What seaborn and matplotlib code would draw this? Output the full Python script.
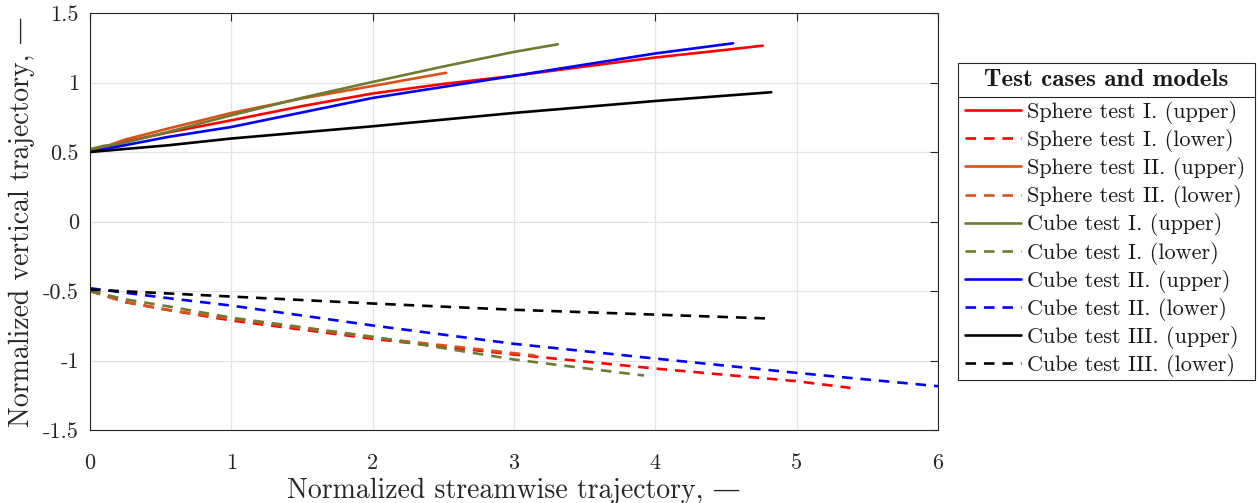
import matplotlib
matplotlib.use("Agg")
import matplotlib.pyplot as plt
from matplotlib.lines import Line2D
from matplotlib.patches import Rectangle
import seaborn as sns
import pandas as pd

# ---------------- data ----------------
sphere1_up_x = [0, 0.25, 0.55, 1, 1.5, 2, 2.5, 3, 3.5, 4, 4.5, 4.76]
sphere1_up_y = [0.5, 0.575, 0.64, 0.728, 0.83, 0.921, 0.99, 1.048, 1.115, 1.18, 1.235, 1.265]
sphere1_lo_x = [0, 0.25, 0.55, 1, 2, 3, 4, 5, 5.38]
sphere1_lo_y = [-0.5, -0.58, -0.636, -0.712, -0.844, -0.957, -1.058, -1.149, -1.197]

sphere2_up_x = [0, 0.25, 0.55, 1, 1.5, 2, 2.52]
sphere2_up_y = [0.5, 0.59, 0.668, 0.781, 0.885, 0.975, 1.07]
sphere2_lo_x = [0, 0.25, 0.55, 1, 2, 3.15]
sphere2_lo_y = [-0.5, -0.58, -0.636, -0.70, -0.835, -0.964]

cube1_up_x = [0, 0.1, 0.2, 0.55, 1, 1.5, 2, 2.5, 3, 3.31]
cube1_up_y = [0.52, 0.545, 0.555, 0.644, 0.764, 0.89, 1.004, 1.115, 1.22, 1.275]
cube1_lo_x = [0, 0.25, 0.55, 1, 2, 3, 3.92]
cube1_lo_y = [-0.5, -0.56, -0.61, -0.692, -0.829, -0.993, -1.108]

cube2_up_x = [0, 0.55, 1, 2, 3, 4, 4.55]
cube2_up_y = [0.5, 0.608, 0.68, 0.889, 1.048, 1.209, 1.282]
cube2_lo_x = [0, 0.5, 1, 2, 3, 4, 5, 6]
cube2_lo_y = [-0.48, -0.545, -0.605, -0.748, -0.88, -0.986, -1.089, -1.185]

cube3_up_x = [0, 0.55, 1, 2, 3, 4, 4.82]
cube3_up_y = [0.5, 0.548, 0.597, 0.685, 0.781, 0.867, 0.93]
cube3_lo_x = [0, 1, 2, 3, 4, 4.78]
cube3_lo_y = [-0.49, -0.54, -0.59, -0.635, -0.67, -0.697]

labels = [
    "Sphere test I. (upper)", "Sphere test I. (lower)",
    "Sphere test II. (upper)", "Sphere test II. (lower)",
    "Cube test I. (upper)", "Cube test I. (lower)",
    "Cube test II. (upper)", "Cube test II. (lower)",
    "Cube test III. (upper)", "Cube test III. (lower)",
]
series = [
    (sphere1_up_x, sphere1_up_y), (sphere1_lo_x, sphere1_lo_y),
    (sphere2_up_x, sphere2_up_y), (sphere2_lo_x, sphere2_lo_y),
    (cube1_up_x, cube1_up_y), (cube1_lo_x, cube1_lo_y),
    (cube2_up_x, cube2_up_y), (cube2_lo_x, cube2_lo_y),
    (cube3_up_x, cube3_up_y), (cube3_lo_x, cube3_lo_y),
]
colors = ["#ff0000", "#ff0000", "#d95319", "#d95319", "#6f7a32", "#6f7a32",
          "#0000ff", "#0000ff", "#000000", "#000000"]

legend_title = "Test cases and models"
x_ticks = [0, 1, 2, 3, 4, 5, 6]
x_ticklabels = ["0", "1", "2", "3", "4", "5", "6"]
y_ticks = [-1.5, -1, -0.5, 0, 0.5, 1, 1.5]
y_ticklabels = ["-1.5", "-1", "-0.5", "0", "0.5", "1", "1.5"]

# ---------------- style ----------------
sns.set_style("white")
plt.rcParams["font.family"] = ["cmr10", "DejaVu Serif"]
plt.rcParams["axes.unicode_minus"] = False
plt.rcParams["mathtext.fontset"] = "cm"

W, H = 1260, 503
fig = plt.figure(figsize=(W / 100, H / 100), dpi=100)
ax = fig.add_axes([90 / W, 1 - 430 / H, (938 - 90) / W, (430 - 13) / H])

for i, ((xs, ys), lab, col) in enumerate(zip(series, labels, colors)):
    df = pd.DataFrame({"x": xs, "y": ys})
    ls = "-" if i % 2 == 0 else (0, (4, 3))
    sns.lineplot(data=df, x="x", y="y", ax=ax, color=col, linewidth=1.9,
                 linestyle=ls, sort=False, estimator=None, label=lab)

ax.set_xlim(0, 6)
ax.set_ylim(-1.5, 1.5)
ax.set_xticks(x_ticks)
ax.set_xticklabels(x_ticklabels)
ax.set_yticks(y_ticks)
ax.set_yticklabels(y_ticklabels)
ax.tick_params(axis="both", which="both", direction="in", length=6, width=0.8,
               colors="#262626", labelsize=16, top=True, right=True)
ax.tick_params(axis="y", pad=8)
ax.tick_params(axis="x", pad=17)
ax.grid(True, color="#e3e3e3", linewidth=0.9)
ax.set_axisbelow(True)
for sp in ax.spines.values():
    sp.set_visible(True)
    sp.set_color("#262626")
    sp.set_linewidth(0.8)

ax.set_xlabel("Normalized streamwise trajectory, \u2014", fontsize=20, color="#262626", labelpad=3)
ax.set_ylabel("Normalized vertical trajectory, \u2014", fontsize=20, color="#262626", labelpad=6)

# legend entries (no frame), then framed box with title row drawn around them
leg = ax.legend(loc="upper left", bbox_to_anchor=(965 / W, 1 - 101 / H),
                bbox_transform=fig.transFigure,
                fontsize=16, frameon=False, handlelength=2.5, handletextpad=0.3,
                labelspacing=0.23, borderpad=0, borderaxespad=0)
for t in leg.get_texts():
    t.set_color("#1a1a1a")

fig.add_artist(Rectangle((958 / W, 1 - 380 / H), (1255 - 958) / W, (380 - 63) / H,
                         transform=fig.transFigure, fill=True, facecolor="none",
                         edgecolor="#262626", linewidth=0.8))
fig.add_artist(Line2D([958 / W, 1255 / W], [1 - 97 / H, 1 - 97 / H],
                      transform=fig.transFigure, color="#262626", linewidth=0.8))
fig.text((958 + 1255) / 2 / W, 1 - 80 / H, legend_title, ha="center", va="center",
         family="cmb10", fontsize=18, color="#1a1a1a")

fig.savefig("out.png", dpi=100)
